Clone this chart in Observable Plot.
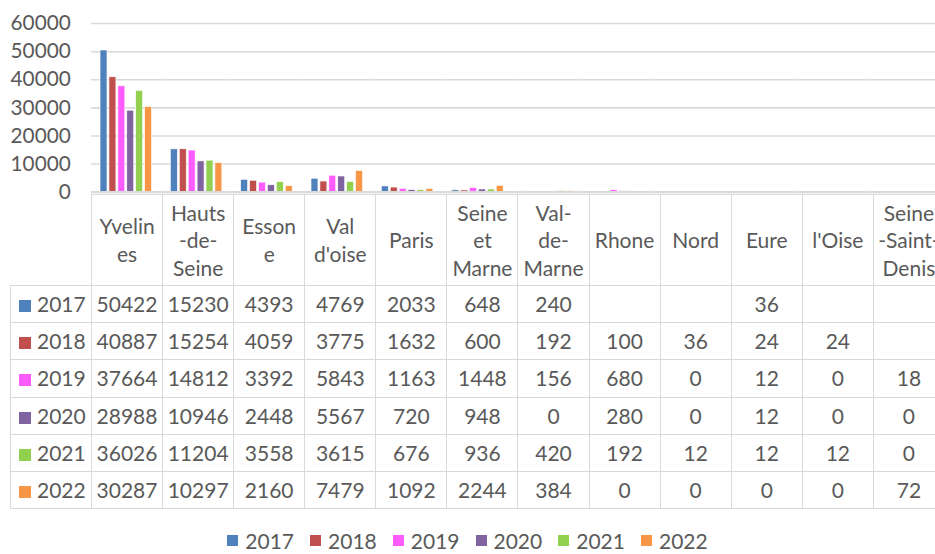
<!DOCTYPE html>
<html>
<head>
<meta charset="utf-8">
<script src="https://cdn.jsdelivr.net/npm/d3@7"></script>
<script src="https://cdn.jsdelivr.net/npm/@observablehq/plot@0.6"></script>
<style>
  html, body { margin: 0; padding: 0; background: #fff; overflow: hidden; }
  #wrap { position: relative; width: 935px; height: 554px; overflow: hidden; font-family: Lato, "Open Sans", sans-serif; color: #595959; }
  #chart { position: absolute; left: 0; top: 0; }
  table { position: absolute; left: 10px; top: 193.5px; border-collapse: collapse; table-layout: fixed; width: 934px; font-size: 21px; color: #595959; }
  td { border: 1.6px solid #d9d9d9; text-align: center; padding: 0; overflow: hidden; white-space: nowrap; box-sizing: border-box; }
  tr.head { height: 91.5px; }
  tr.head td { line-height: 27.5px; vertical-align: middle; }
  tr.row { height: 37.2px; }
  tr.row td { line-height: 20px; }
  td.corner { border-top: none; border-left: none; }
  td.key { text-align: left; padding-left: 8px; }
  .sq { display: inline-block; width: 12px; height: 12px; margin-right: 6px; vertical-align: 0px; }
  #legend { position: absolute; top: 528px; left: 0; width: 935px; display: flex; justify-content: center; gap: 16px; font-size: 21px; }
  #legend .item { display: flex; align-items: center; }
  #legend .sq { width: 11px; height: 11px; margin-right: 7px; }
</style>
</head>
<body>
<div id="wrap">
  <div id="chart"></div>
  <div id="tbl"></div>
  <div id="legend"></div>
</div>
<script>
const categories = ["Yvelines", "Hauts-de-Seine", "Essone", "Val d'oise", "Paris", "Seine et Marne", "Val-de-Marne", "Rhone", "Nord", "Eure", "l'Oise", "Seine-Saint-Denis"];
const headerLabels = ["Yvelin\nes", "Hauts\n-de-\nSeine", "Esson\ne", "Val\nd'oise", "Paris", "Seine\net\nMarne", "Val-\nde-\nMarne", "Rhone", "Nord", "Eure", "l'Oise", "Seine\n-Saint-\nDenis"];
const years = ["2017", "2018", "2019", "2020", "2021", "2022"];
const colors = ["#4f81bd", "#c0504d", "#ff5cff", "#8064a2", "#92d050", "#f79646"];
const yTicks = [0, 10000, 20000, 30000, 40000, 50000, 60000];

const v2017 = [50422, 15230, 4393, 4769, 2033, 648, 240, null, null, 36, null, null];
const v2018 = [40887, 15254, 4059, 3775, 1632, 600, 192, 100, 36, 24, 24, null];
const v2019 = [37664, 14812, 3392, 5843, 1163, 1448, 156, 680, 0, 12, 0, 18];
const v2020 = [28988, 10946, 2448, 5567, 720, 948, 0, 280, 0, 12, 0, 0];
const v2021 = [36026, 11204, 3558, 3615, 676, 936, 420, 192, 12, 12, 12, 0];
const v2022 = [30287, 10297, 2160, 7479, 1092, 2244, 384, 0, 0, 0, 0, 72];
const series = [v2017, v2018, v2019, v2020, v2021, v2022];

const data = [];
series.forEach((vals, i) => vals.forEach((v, j) => {
  data.push({year: years[i], category: categories[j], value: v});
}));

const chart = Plot.plot({
  width: 944,
  height: 196,
  marginLeft: 91,
  marginRight: 0,
  marginTop: 23,
  marginBottom: 2.5,
  style: {fontFamily: "Lato, 'Open Sans', sans-serif", fontSize: "21px", color: "#595959", background: "transparent", overflow: "visible"},
  fx: {domain: categories, padding: 0, axis: null, label: null, range: [91, 944]},
  x: {domain: years, paddingInner: 0.17, paddingOuter: 0.95, axis: null},
  y: {domain: [0, 60000], range: [193.5, 23.3], ticks: yTicks, tickSize: 0, tickPadding: 21, label: null, tickFormat: d => String(d)},
  color: {domain: years, range: colors},
  marks: [
    Plot.ruleY(yTicks.filter(t => t > 0), {stroke: "#d9d9d9", strokeWidth: 1.6}),
    Plot.barY(data.filter(d => d.value != null && d.value > 0), {fx: "category", x: "year", y: "value", fill: "year", stroke: "white", strokeWidth: 0.6}),
    Plot.ruleY([0], {stroke: "#d9d9d9", strokeWidth: 2.2})
  ]
});
document.getElementById("chart").appendChild(chart);

// data table
const table = document.createElement("table");
const cg = document.createElement("colgroup");
const c0 = document.createElement("col"); c0.style.width = "81px"; cg.appendChild(c0);
categories.forEach(() => { const c = document.createElement("col"); c.style.width = (853 / 12) + "px"; cg.appendChild(c); });
table.appendChild(cg);
const head = document.createElement("tr"); head.className = "head";
const corner = document.createElement("td"); corner.className = "corner"; head.appendChild(corner);
headerLabels.forEach(h => {
  const td = document.createElement("td");
  td.innerHTML = h.split("\n").join("<br>");
  head.appendChild(td);
});
table.appendChild(head);
series.forEach((vals, i) => {
  const tr = document.createElement("tr"); tr.className = "row";
  const k = document.createElement("td"); k.className = "key";
  k.innerHTML = `<span class="sq" style="background:${colors[i]}"></span>${years[i]}`;
  tr.appendChild(k);
  vals.forEach(v => {
    const td = document.createElement("td");
    td.textContent = v == null ? "" : String(v);
    tr.appendChild(td);
  });
  table.appendChild(tr);
});
document.getElementById("tbl").appendChild(table);

// legend
const leg = document.getElementById("legend");
years.forEach((y, i) => {
  const it = document.createElement("div"); it.className = "item";
  it.innerHTML = `<span class="sq" style="background:${colors[i]}"></span>${y}`;
  leg.appendChild(it);
});
</script>
</body>
</html>
